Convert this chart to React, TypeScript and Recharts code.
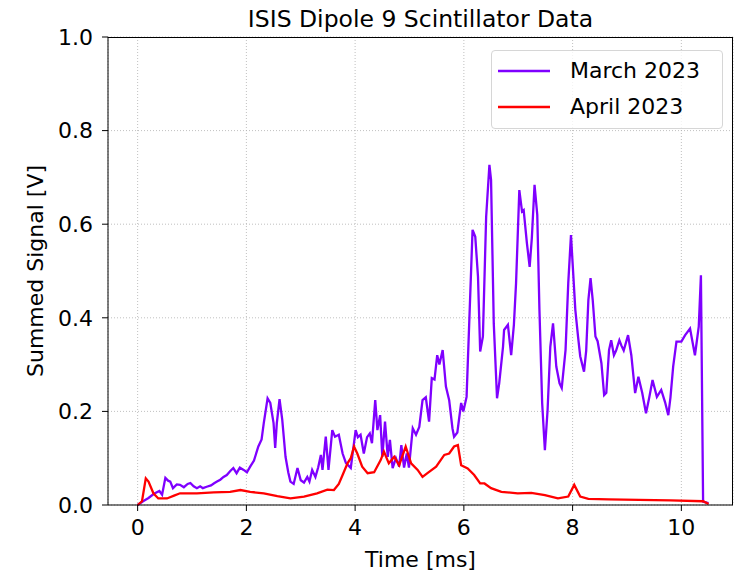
import React from 'react'
import { LineChart, Line, XAxis, YAxis, CartesianGrid } from 'recharts'

const marchT = [
  0.0, 0.1, 0.2, 0.3, 0.4, 0.45, 0.51, 0.56, 0.6, 0.65, 0.72, 0.78, 0.85, 0.92, 0.97, 1.03, 1.09, 1.15, 1.2, 1.27,
  1.35, 1.4, 1.46, 1.52, 1.58, 1.64, 1.7, 1.76, 1.82, 1.88, 1.95, 2.01, 2.07, 2.14, 2.22, 2.28, 2.32, 2.39, 2.44, 2.5,
  2.53, 2.56, 2.61, 2.66, 2.72, 2.77, 2.81, 2.87, 2.94, 3.0, 3.06, 3.12, 3.16, 3.21, 3.27, 3.32, 3.37, 3.4, 3.46, 3.51,
  3.58, 3.63, 3.7, 3.77, 3.83, 3.92, 4.01, 4.05, 4.1, 4.16, 4.22, 4.27, 4.31, 4.37, 4.41, 4.46, 4.5, 4.55, 4.6, 4.64,
  4.69, 4.75, 4.81, 4.85, 4.9, 4.95, 4.99, 5.06, 5.12, 5.18, 5.24, 5.3, 5.36, 5.41, 5.46, 5.51, 5.55, 5.61, 5.67, 5.73,
  5.79, 5.82, 5.88, 5.95, 5.99, 6.05, 6.16, 6.21, 6.26, 6.3, 6.35, 6.41, 6.47, 6.5, 6.55, 6.61, 6.65, 6.72, 6.74, 6.81,
  6.87, 6.92, 6.96, 7.02, 7.07, 7.1, 7.16, 7.21, 7.25, 7.3, 7.35, 7.39, 7.44, 7.49, 7.54, 7.59, 7.64, 7.7, 7.76, 7.8,
  7.87, 7.92, 7.97, 8.0, 8.05, 8.1, 8.14, 8.21, 8.25, 8.29, 8.33, 8.37, 8.42, 8.46, 8.53, 8.58, 8.62, 8.67, 8.71, 8.76,
  8.8, 8.86, 8.9, 8.94, 9.02, 9.08, 9.15, 9.21, 9.28, 9.35, 9.41, 9.47, 9.55, 9.63, 9.7, 9.76, 9.8, 9.85, 9.91, 10.0,
  10.07, 10.16, 10.25, 10.32, 10.36, 10.4, 10.5,
]
const marchV = [
  0.0, 0.008, 0.015, 0.024, 0.03, 0.022, 0.058, 0.052, 0.05, 0.036, 0.044, 0.043, 0.038, 0.045, 0.047, 0.04, 0.036, 0.04, 0.036, 0.039,
  0.042, 0.046, 0.05, 0.054, 0.06, 0.064, 0.072, 0.079, 0.068, 0.08, 0.075, 0.07, 0.082, 0.095, 0.125, 0.14, 0.175, 0.228, 0.218, 0.175,
  0.122, 0.175, 0.226, 0.182, 0.103, 0.07, 0.05, 0.045, 0.079, 0.053, 0.048, 0.06, 0.05, 0.075, 0.06, 0.08, 0.107, 0.075, 0.146, 0.075,
  0.16, 0.146, 0.15, 0.11, 0.09, 0.079, 0.16, 0.145, 0.15, 0.11, 0.145, 0.153, 0.132, 0.224, 0.16, 0.192, 0.103, 0.178, 0.103, 0.139,
  0.079, 0.1, 0.082, 0.128, 0.08, 0.11, 0.08, 0.164, 0.15, 0.167, 0.224, 0.23, 0.178, 0.271, 0.268, 0.32, 0.3, 0.331, 0.253, 0.224,
  0.164, 0.146, 0.155, 0.218, 0.2, 0.231, 0.588, 0.573, 0.488, 0.328, 0.36, 0.616, 0.727, 0.695, 0.388, 0.228, 0.26, 0.338, 0.374, 0.385,
  0.32, 0.385, 0.474, 0.673, 0.627, 0.63, 0.559, 0.509, 0.57, 0.684, 0.62, 0.417, 0.218, 0.117, 0.203, 0.338, 0.388, 0.296, 0.26, 0.25,
  0.331, 0.474, 0.577, 0.517, 0.417, 0.36, 0.318, 0.285, 0.33, 0.438, 0.485, 0.438, 0.36, 0.35, 0.303, 0.235, 0.24, 0.331, 0.352, 0.32,
  0.33, 0.352, 0.34, 0.33, 0.363, 0.32, 0.239, 0.274, 0.24, 0.196, 0.23, 0.267, 0.231, 0.246, 0.22, 0.192, 0.23, 0.296, 0.349, 0.349,
  0.363, 0.377, 0.32, 0.381, 0.491, 0.007, 0.004,
]

const aprilT = [
  0.0, 0.08, 0.15, 0.2, 0.29, 0.38, 0.54, 0.67, 0.78, 1.09, 1.4, 1.7, 1.89, 2.07, 2.32, 2.57, 2.81, 3.06, 3.3, 3.49,
  3.61, 3.7, 3.77, 3.86, 3.92, 3.98, 4.04, 4.13, 4.23, 4.35, 4.47, 4.53, 4.62, 4.72, 4.81, 4.93, 5.03, 5.15, 5.24, 5.33,
  5.49, 5.64, 5.73, 5.82, 5.89, 5.95, 6.07, 6.19, 6.3, 6.38, 6.5, 6.69, 6.99, 7.24, 7.49, 7.73, 7.92, 8.03, 8.14, 8.29,
  8.66, 9.22, 9.8, 10.4, 10.5,
]
const aprilV = [
  0.0, 0.008, 0.057, 0.05, 0.025, 0.014, 0.014, 0.02, 0.025, 0.025, 0.027, 0.028, 0.032, 0.028, 0.025, 0.019, 0.014, 0.018, 0.025, 0.033,
  0.032, 0.045, 0.064, 0.089, 0.1, 0.125, 0.11, 0.082, 0.068, 0.07, 0.096, 0.114, 0.089, 0.103, 0.085, 0.125, 0.089, 0.075, 0.06, 0.068,
  0.082, 0.107, 0.11, 0.125, 0.128, 0.085, 0.078, 0.064, 0.046, 0.046, 0.036, 0.028, 0.025, 0.026, 0.021, 0.014, 0.018, 0.043, 0.018, 0.013,
  0.012, 0.011, 0.01, 0.008, 0.002,
]

const xTicks = [0, 2, 4, 6, 8, 10]
const yTicks = [0, 0.2, 0.4, 0.6, 0.8, 1.0]

const seriesNames = ['March 2023', 'April 2023']
const seriesColors = ['#7f00ff', '#ff0000']

const march = marchT.map((t, i) => ({ t, v: marchV[i] }))
const april = aprilT.map((t, i) => ({ t, v: aprilV[i] }))

const FONT = '"DejaVu Sans", sans-serif'
const xDomain = [-0.545, 10.95]

// matplotlib-style legend box, placed over the upper right of the plot
function LegendBox() {
  return (
    <div
      style={{
        position: 'absolute',
        left: 491,
        top: 50,
        width: 232,
        height: 79,
        boxSizing: 'border-box',
        border: '1px solid #d6d6d6',
        borderRadius: 4,
        background: 'rgba(255,255,255,0.8)',
        fontFamily: FONT,
        fontSize: 22,
        color: '#000',
      }}
    >
      {seriesNames.map((name, i) => (
        <div key={name} style={{ display: 'flex', alignItems: 'center', height: 37, marginTop: i === 0 ? 1 : -1 }}>
          <svg width={78} height={10} style={{ flexShrink: 0 }}>
            <line x1={6} x2={58} y1={5} y2={5} stroke={seriesColors[i]} strokeWidth={2.3} />
          </svg>
          <span>{name}</span>
        </div>
      ))}
    </div>
  )
}

export default function App() {
  return (
    <div style={{ position: 'absolute', left: 0, top: 0, width: 735, height: 576, background: '#fff', fontFamily: FONT }}>
      <div
        style={{
          position: 'absolute',
          left: 108,
          width: 625,
          top: 6,
          textAlign: 'center',
          fontSize: 23.5,
          lineHeight: '26px',
          color: '#000',
        }}
      >
        ISIS Dipole 9 Scintillator Data
      </div>
      <LineChart width={735} height={576} margin={{ top: 37, right: 2, left: 0, bottom: 0 }}>
        <CartesianGrid stroke="#b0b0b0" strokeDasharray="1 2" strokeWidth={0.8} vertical horizontal />
        <XAxis
          dataKey="t"
          type="number"
          domain={xDomain}
          ticks={xTicks}
          allowDataOverflow
          height={71}
          tickSize={6}
          tickMargin={8}
          stroke="#000"
          tick={{ fill: '#000', fontSize: 22, fontFamily: FONT }}
          label={{ value: 'Time [ms]', position: 'insideBottom', offset: 9, style: { fontSize: 22, fill: '#000', fontFamily: FONT } }}
        />
        <YAxis
          type="number"
          domain={[0, 1]}
          ticks={yTicks}
          width={108}
          tickSize={6}
          tickMargin={9}
          stroke="#000"
          tickFormatter={(v: number) => v.toFixed(1)}
          tick={{ fill: '#000', fontSize: 22, fontFamily: FONT }}
          label={{
            value: 'Summed Signal [V]',
            angle: -90,
            position: 'insideLeft',
            offset: 35,
            style: { textAnchor: 'middle', fontSize: 22, fill: '#000', fontFamily: FONT },
          }}
        />
        <Line
          data={march}
          dataKey="v"
          name={seriesNames[0]}
          type="linear"
          stroke={seriesColors[0]}
          strokeWidth={2.3}
          dot={false}
          activeDot={false}
          isAnimationActive={false}
        />
        <Line
          data={april}
          dataKey="v"
          name={seriesNames[1]}
          type="linear"
          stroke={seriesColors[1]}
          strokeWidth={2.3}
          dot={false}
          activeDot={false}
          isAnimationActive={false}
        />
      </LineChart>
      {/* plot frame (top and right spines) */}
      <div
        style={{
          position: 'absolute',
          left: 108,
          top: 37,
          width: 625,
          height: 468,
          borderTop: '1px solid #000',
          borderRight: '1px solid #000',
          boxSizing: 'border-box',
          pointerEvents: 'none',
        }}
      />
      <LegendBox />
    </div>
  )
}
